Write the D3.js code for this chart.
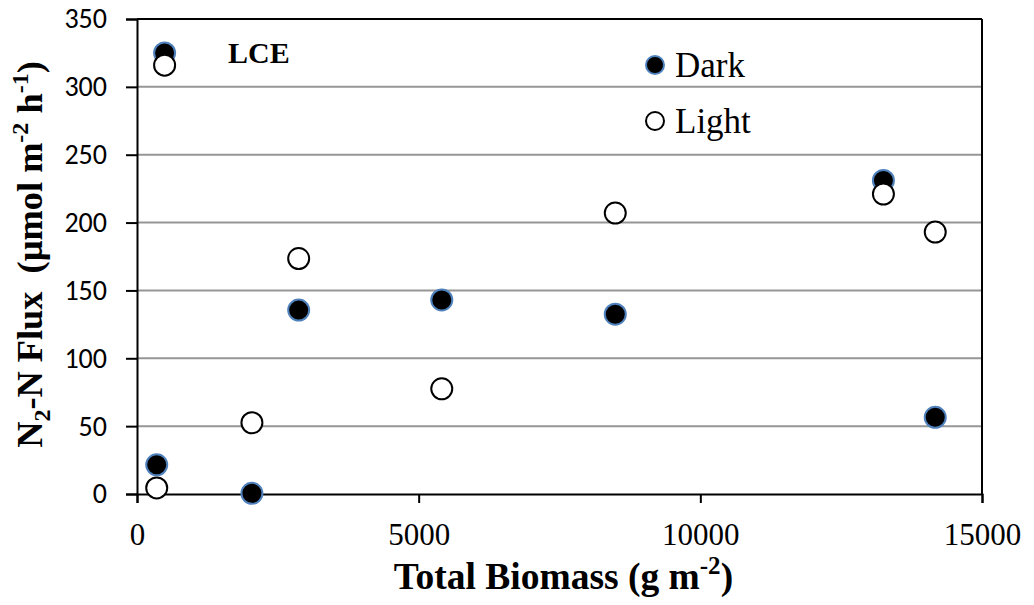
<!DOCTYPE html>
<html>
<head>
<meta charset="utf-8">
<script src="https://cdn.jsdelivr.net/npm/d3@7"></script>
<style>
  body { margin: 0; background: #fff; }
  svg { display: block; }
  text { white-space: pre; }
</style>
</head>
<body>
<svg class="flux" width="1034" height="605"></svg>
<script>
// values
var biomass = [350, 490, 2040, 2870, 5410, 8490, 13250, 14170];
var dark = [21.5, 325, 0.5, 135.5, 143, 132.5, 231, 56.5];
var light = [4.5, 316, 52.5, 173.5, 77.5, 207, 221, 193];
var seriesNames = ["Dark", "Light"];
var xTicks = [0, 5000, 10000, 15000];
var yTicks = [0, 50, 100, 150, 200, 250, 300, 350];

var margin = { top: 19, right: 52, bottom: 111, left: 137 };
var svg = d3.select(".flux");
var width = 1034 - margin.left - margin.right;
var height = 605 - margin.top - margin.bottom;

var x = d3.scaleLinear().domain([0, 15000]).range([0, width]);
var y = d3.scaleLinear().domain([0, 350]).range([height, 0]);

var g = svg.append("g")
    .attr("transform", "translate(" + margin.left + "," + margin.top + ")");

// gridlines
g.selectAll("line.grid")
    .data(yTicks.filter(function(d) { return d > 0 && d < 350; }))
  .enter().append("line")
    .attr("class", "grid")
    .attr("x1", 0).attr("x2", width)
    .attr("y1", function(d) { return y(d); })
    .attr("y2", function(d) { return y(d); })
    .attr("stroke", "#969696")
    .attr("stroke-width", 2);

// frame top + right
g.append("line").attr("x1", 0).attr("x2", width).attr("y1", 0).attr("y2", 0)
    .attr("stroke", "#000").attr("stroke-width", 2);
g.append("line").attr("x1", width).attr("x2", width).attr("y1", 0).attr("y2", height)
    .attr("stroke", "#000").attr("stroke-width", 2);

var yAxis = g.append("g")
    .call(d3.axisLeft(y).tickValues(yTicks).tickSize(11).tickPadding(19));
yAxis.selectAll("text")
    .attr("font-family", "Carlito, 'Liberation Sans', sans-serif")
    .attr("font-size", 28)
    .attr("fill", "#000");

var xAxis = g.append("g")
    .attr("transform", "translate(0," + height + ")")
    .call(d3.axisBottom(x).tickValues(xTicks).tickFormat(d3.format("d")).tickSize(9).tickPadding(20));
xAxis.selectAll("text")
    .attr("font-family", "'Liberation Serif', 'Times New Roman', serif")
    .attr("font-size", 31)
    .attr("fill", "#000");

[yAxis, xAxis].forEach(function(a) {
  a.select(".domain").attr("stroke", "#000").attr("stroke-width", 2);
  a.selectAll(".tick line").attr("stroke", "#000").attr("stroke-width", 2);
});

function darkDot(sel, r) {
  sel.attr("r", r).attr("fill", "#000")
     .attr("stroke", "#4f81bd").attr("stroke-width", 2);
}
function lightDot(sel, r) {
  sel.attr("r", r).attr("fill", "#fff")
     .attr("stroke", "#000").attr("stroke-width", 2);
}

g.selectAll("circle.dark")
    .data(dark)
  .enter().append("circle")
    .attr("class", "dark")
    .attr("cx", function(d, i) { return x(biomass[i]); })
    .attr("cy", function(d) { return y(d); })
    .call(darkDot, 10.5);

g.selectAll("circle.light")
    .data(light)
  .enter().append("circle")
    .attr("class", "light")
    .attr("cx", function(d, i) { return x(biomass[i]); })
    .attr("cy", function(d) { return y(d); })
    .call(lightDot, 10.5);

// legend
var leg = svg.append("g").attr("transform", "translate(655,65)");
seriesNames.forEach(function(name, i) {
  var row = leg.append("g").attr("transform", "translate(0," + i * 56 + ")");
  row.append("circle").call(i == 0 ? darkDot : lightDot, 9);
  row.append("text")
      .attr("x", 20).attr("y", 12)
      .attr("font-family", "'Liberation Serif', 'Times New Roman', serif")
      .attr("font-size", 35)
      .text(name);
});

// LCE label
svg.append("text")
    .attr("x", 228).attr("y", 63)
    .attr("font-family", "'Liberation Serif', 'Times New Roman', serif")
    .attr("font-weight", "bold")
    .attr("font-size", 30)
    .text("LCE");

// axis titles
var xt = svg.append("text")
    .attr("x", margin.left + width / 2 + 4).attr("y", 589)
    .attr("text-anchor", "middle")
    .attr("font-family", "'Liberation Serif', 'Times New Roman', serif")
    .attr("font-weight", "bold")
    .attr("font-size", 37.5);
xt.append("tspan").text("Total Biomass (g m");
xt.append("tspan").attr("font-size", 25).attr("dy", -15).text("-2");
xt.append("tspan").attr("dy", 15).text(")");

var yt = svg.append("text")
    .attr("transform", "translate(42," + (margin.top + height / 2 - 2) + ") rotate(-90)")
    .attr("text-anchor", "middle")
    .attr("font-family", "'Liberation Serif', 'Times New Roman', serif")
    .attr("font-weight", "bold")
    .attr("font-size", 36.3);
yt.append("tspan").text("N");
yt.append("tspan").attr("font-size", 24).attr("dy", 8).text("2");
yt.append("tspan").attr("dy", -8).text("-N Flux  (µmol m");
yt.append("tspan").attr("font-size", 24).attr("dy", -14).text("-2");
yt.append("tspan").attr("dy", 14).text(" h");
yt.append("tspan").attr("font-size", 24).attr("dy", -14).text("-1");
yt.append("tspan").attr("dy", 14).text(")");
</script>
</body>
</html>
